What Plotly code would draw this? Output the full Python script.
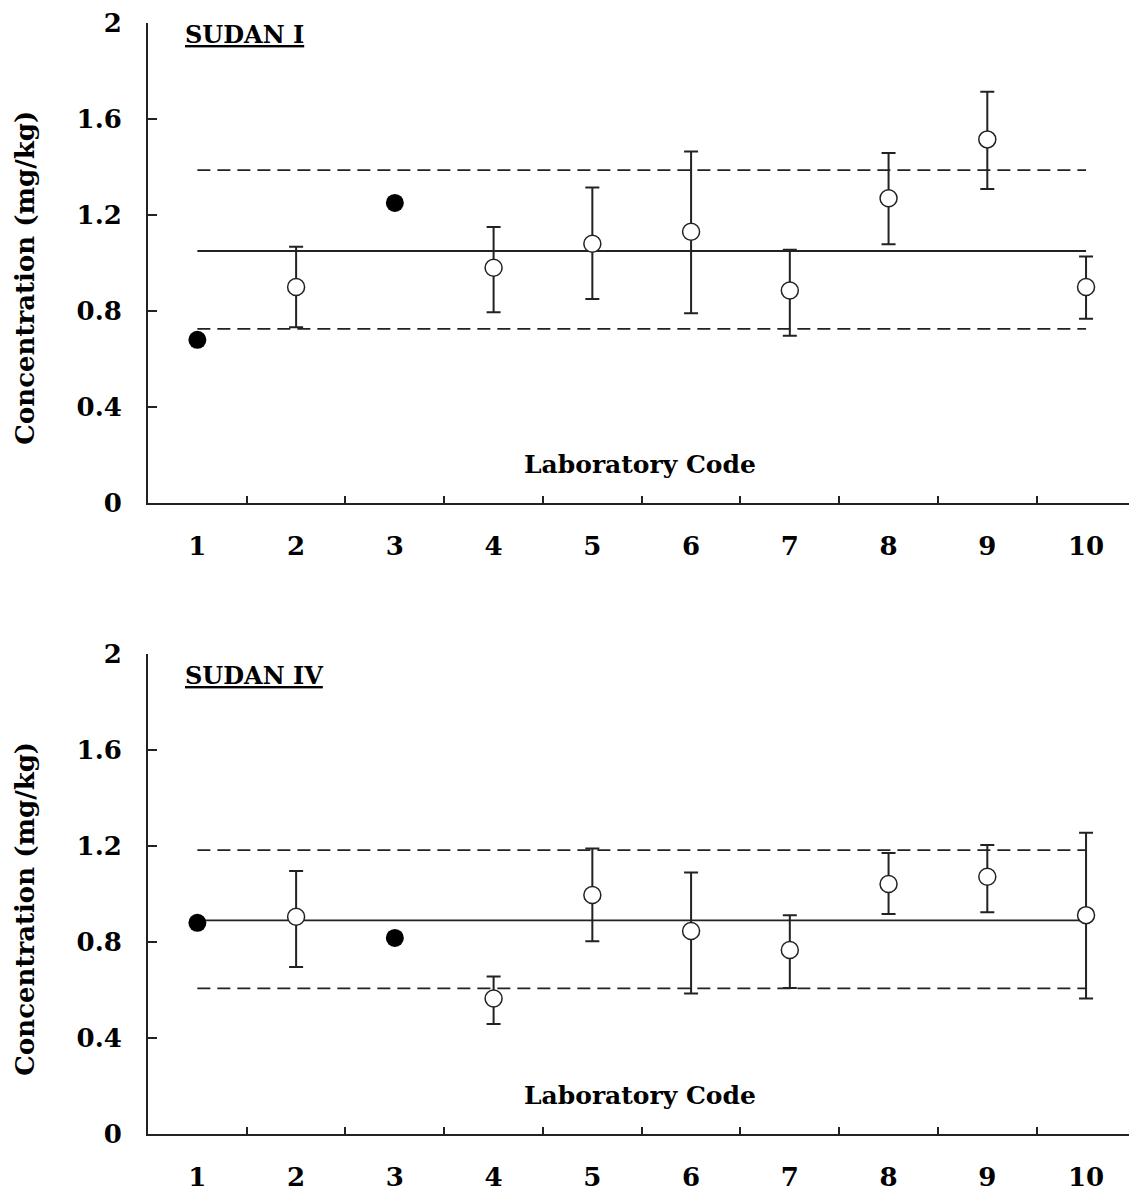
import plotly.graph_objects as go

labs = [1, 2, 3, 4, 5, 6, 7, 8, 9, 10]
tick_labels = ["1", "2", "3", "4", "5", "6", "7", "8", "9", "10"]
y_ticks = [0, 0.4, 0.8, 1.2, 1.6, 2]
y_tick_labels = ["0", "0.4", "0.8", "1.2", "1.6", "2"]

# SUDAN I
s1_filled_labs = [1, 3]
s1_filled_vals = [0.68, 1.25]
s1_open_labs = [2, 4, 5, 6, 7, 8, 9, 10]
s1_open_vals = [0.90, 0.98, 1.08, 1.13, 0.885, 1.27, 1.515, 0.90]
s1_upper = [1.068, 1.15, 1.315, 1.465, 1.055, 1.458, 1.714, 1.027]
s1_lower = [0.732, 0.795, 0.85, 0.79, 0.697, 1.078, 1.308, 0.768]
s1_mean = 1.05
s1_limits = [0.725, 1.387]

# SUDAN IV
s4_filled_labs = [1, 3]
s4_filled_vals = [0.88, 0.817]
s4_open_labs = [2, 4, 5, 6, 7, 8, 9, 10]
s4_open_vals = [0.905, 0.565, 0.996, 0.846, 0.767, 1.042, 1.072, 0.912]
s4_upper = [1.096, 0.656, 1.19, 1.09, 0.912, 1.171, 1.204, 1.255]
s4_lower = [0.696, 0.458, 0.803, 0.586, 0.608, 0.917, 0.924, 0.565]
s4_mean = 0.89
s4_limits = [0.607, 1.183]

FONT = "DejaVu Serif"
fig = go.Figure()


def add_panel(xa, ya, filled_labs, filled_vals, open_labs, open_vals, upper, lower, mean, limits):
    x_line = [labs[0], labs[-1]]
    fig.add_trace(go.Scatter(x=x_line, y=[mean, mean], mode="lines",
                             line=dict(color="#222", width=1.8), xaxis=xa, yaxis=ya,
                             showlegend=False, hoverinfo="skip"))
    for lim in limits:
        fig.add_trace(go.Scatter(x=x_line, y=[lim, lim], mode="lines",
                                 line=dict(color="#222", width=1.8, dash="13px,7px"),
                                 xaxis=xa, yaxis=ya, showlegend=False, hoverinfo="skip"))
    fig.add_trace(go.Scatter(
        x=open_labs, y=open_vals, mode="markers",
        marker=dict(symbol="circle", size=17, color="white",
                    line=dict(color="#222", width=1.5)),
        error_y=dict(type="data", symmetric=False,
                     array=[u - v for u, v in zip(upper, open_vals)],
                     arrayminus=[v - l for v, l in zip(open_vals, lower)],
                     color="#222", thickness=2, width=7),
        xaxis=xa, yaxis=ya, showlegend=False))
    fig.add_trace(go.Scatter(
        x=filled_labs, y=filled_vals, mode="markers",
        marker=dict(symbol="circle", size=18, color="black"),
        xaxis=xa, yaxis=ya, showlegend=False))


add_panel("x", "y", s1_filled_labs, s1_filled_vals, s1_open_labs, s1_open_vals,
          s1_upper, s1_lower, s1_mean, s1_limits)
add_panel("x2", "y2", s4_filled_labs, s4_filled_vals, s4_open_labs, s4_open_vals,
          s4_upper, s4_lower, s4_mean, s4_limits)

tickfont = dict(family=FONT, size=26, color="black", weight="bold")
minor_vals = [v + 0.5 for v in labs[:-1]]

xcommon = dict(range=[0.5, 10.435], showline=True, linecolor="#222", linewidth=2,
               showgrid=False, zeroline=False, tickmode="array", tickvals=labs,
               ticktext=tick_labels, ticks="", tickfont=tickfont, ticklabelstandoff=19,
               automargin=False,
               minor=dict(tickvals=minor_vals, ticks="inside", ticklen=7, tickwidth=2,
                          tickcolor="#222", showgrid=False))
ycommon = dict(range=[0, 2], showline=True, linecolor="#222", linewidth=2,
               showgrid=False, zeroline=False, tickmode="array", tickvals=y_ticks,
               ticktext=y_tick_labels, ticks="inside", ticklen=9, tickwidth=2,
               tickcolor="#222", tickfont=tickfont, ticklabelstandoff=19,
               automargin=False)

fig.update_layout(
    width=1129, height=1192,
    margin=dict(l=148, r=0, t=23, b=58, autoexpand=False),
    paper_bgcolor="white", plot_bgcolor="white",
    xaxis=dict(domain=[0, 1], anchor="y", **xcommon),
    yaxis=dict(domain=[0.568, 1], anchor="x", **ycommon),
    xaxis2=dict(domain=[0, 1], anchor="y2", **xcommon),
    yaxis2=dict(domain=[0, 0.432], anchor="x2", **ycommon),
)

annots = []
for ya, title, ty in [("y", "SUDAN I", 0.975), ("y2", "SUDAN IV", 0.956)]:
    xa = "x" if ya == "y" else "x2"
    annots.append(dict(text="<u>" + title + "</u>", xref=xa + " domain", yref=ya + " domain",
                       x=0.036, y=ty, xanchor="left", yanchor="middle", showarrow=False,
                       font=dict(family=FONT, size=24, color="black", weight="bold")))
    annots.append(dict(text="Laboratory Code", xref=xa + " domain", yref=ya + " domain",
                       x=0.502, y=0.08, xanchor="center", yanchor="middle", showarrow=False,
                       font=dict(family=FONT, size=25, color="black", weight="bold")))
    annots.append(dict(text="Concentration (mg/kg)", xref=xa + " domain", yref=ya + " domain",
                       x=-0.125, y=0.47, xanchor="center", yanchor="middle", textangle=-90,
                       showarrow=False,
                       font=dict(family=FONT, size=26, color="black", weight="bold")))
fig.update_layout(annotations=annots)

fig.write_html("out.html")
